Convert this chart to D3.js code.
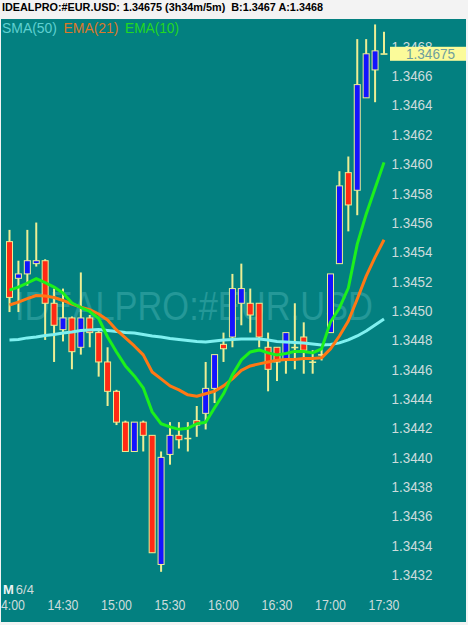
<!DOCTYPE html>
<html lang="en">
<head>
<meta charset="UTF-8">
<title>IDEALPRO:#EUR.USD 5m</title>
<script src="https://cdn.jsdelivr.net/npm/d3@7"></script>
<style>
  *{margin:0;padding:0;}
  body{background:#f3f3f3;}
  svg{display:block;}
</style>
</head>
<body>
<div id="content"></div>
<script>
// 5 minute bars, 14:00 - 17:30
var times = ["14:00","14:05","14:10","14:15","14:20","14:25","14:30","14:35","14:40","14:45","14:50","14:55",
             "15:00","15:05","15:10","15:15","15:20","15:25","15:30","15:35","15:40","15:45","15:50","15:55",
             "16:00","16:05","16:10","16:15","16:20","16:25","16:30","16:35","16:40","16:45","16:50","16:55",
             "17:00","17:05","17:10","17:15","17:20","17:25","17:30"];
var opens  = [1.34547,1.34522,1.34525,1.34532,1.34534,1.34505,1.34487,1.34495,1.34475,1.34495,1.34485,1.34465,
              1.34445,1.34424,1.34404,1.34424,1.34415,1.34327,1.34402,1.34415,1.34413,1.34425,1.34430,1.34447,
              1.34477,1.34482,1.34505,1.34505,1.34505,1.34475,1.34475,1.34466,1.34475,1.34482,1.34465,1.34470,
              1.34485,1.34532,1.34594,1.34582,1.34645,1.34664,1.34675];
var highs  = [1.34555,1.34534,1.34555,1.34560,1.34535,1.34515,1.34515,1.34496,1.34526,1.34497,1.34486,1.34475,
              1.34446,1.34425,1.34424,1.34425,1.34415,1.34404,1.34424,1.34424,1.34424,1.34435,1.34465,1.34470,
              1.34485,1.34525,1.34532,1.34515,1.34505,1.34485,1.34475,1.34485,1.34505,1.34492,1.34473,1.34474,
              1.34525,1.34595,1.34605,1.34685,1.34685,1.34695,1.34690];
var lows   = [1.34499,1.34499,1.34517,1.34530,1.34480,1.34465,1.34479,1.34460,1.34470,1.34475,1.34455,1.34435,
              1.34422,1.34404,1.34404,1.34404,1.34335,1.34322,1.34395,1.34406,1.34404,1.34414,1.34419,1.34437,
              1.34465,1.34475,1.34490,1.34485,1.34475,1.34445,1.34452,1.34457,1.34460,1.34457,1.34457,1.34466,
              1.34485,1.34532,1.34554,1.34565,1.34645,1.34642,1.34675];
var closes = [1.34509,1.34525,1.34534,1.34534,1.34505,1.34490,1.34495,1.34472,1.34495,1.34485,1.34465,1.34445,
              1.34424,1.34404,1.34424,1.34415,1.34335,1.34400,1.34415,1.34412,1.34413,1.34422,1.34447,1.34470,
              1.34474,1.34515,1.34515,1.34497,1.34482,1.34460,1.34465,1.34485,1.34475,1.34473,1.34465,1.34470,
              1.34525,1.34585,1.34572,1.34654,1.34675,1.34677,1.34675];

// moving averages
var sma50 = [1.344800,1.344803,1.344814,1.344820,1.344831,1.344837,1.344848,1.344854,1.344865,1.344868,1.344871,1.344865,
             1.344858,1.344851,1.344848,1.344837,1.344827,1.344820,1.344810,1.344803,1.344797,1.344790,1.344786,1.344793,
             1.344800,1.344803,1.344807,1.344807,1.344807,1.344800,1.344790,1.344786,1.344783,1.344780,1.344773,1.344766,
             1.344769,1.344780,1.344800,1.344827,1.344861,1.344902,1.344943];
var ema21 = [1.345038,1.345058,1.345082,1.345103,1.345099,1.345089,1.345069,1.345045,1.345024,1.345007,1.344977,1.344936,
             1.344868,1.344814,1.344759,1.344698,1.344582,1.344535,1.344487,1.344460,1.344426,1.344416,1.344433,1.344450,
             1.344487,1.344535,1.344593,1.344623,1.344637,1.344650,1.344661,1.344667,1.344667,1.344674,1.344674,1.344678,
             1.344739,1.344827,1.344929,1.345079,1.345235,1.345364,1.345483];
var ema10 = [1.345140,1.345160,1.345188,1.345218,1.345191,1.345160,1.345120,1.345052,1.345021,1.344994,1.344946,1.344820,
             1.344718,1.344623,1.344555,1.344474,1.344310,1.344229,1.344208,1.344191,1.344198,1.344229,1.344239,1.344338,
             1.344433,1.344562,1.344664,1.344718,1.344732,1.344712,1.344698,1.344708,1.344722,1.344722,1.344712,1.344739,
             1.344922,1.345018,1.345154,1.345453,1.345657,1.345834,1.346010];

var yTicks = [1.3432,1.3434,1.3436,1.3438,1.3440,1.3442,1.3444,1.3446,1.3448,1.3450,
              1.3452,1.3454,1.3456,1.3458,1.3460,1.3462,1.3464,1.3466,1.3468];
var xTicks = ["14:00","14:30","15:00","15:30","16:00","16:30","17:00","17:30"];
var legendNames = ["SMA(50)","EMA(21)","EMA(10)"];
var lastPrice = 1.34675;

var width = 468, height = 625;
var font = "'Liberation Sans', Arial, sans-serif";

var svg = d3.select("#content").append("svg")
    .attr("width", width).attr("height", height);

// header
svg.append("rect").attr("width", width).attr("height", height).attr("fill", "#f3f3f3");
svg.append("text")
    .attr("x", 2).attr("y", 11)
    .attr("font-family", font).attr("font-size", 10.5).attr("font-weight", "bold")
    .attr("fill", "#000")
    .style("white-space", "pre")
    .attr("textLength", 321).attr("lengthAdjust", "spacingAndGlyphs")
    .text("IDEALPRO:#EUR.USD: 1.34675 (3h34m/5m)  B:1.3467 A:1.3468");

// plot area
svg.append("defs").append("clipPath").attr("id", "clip")
    .append("rect").attr("x", 1).attr("y", 19).attr("width", 465).attr("height", 603);
var g = svg.append("g").attr("clip-path", "url(#clip)");
g.append("rect").attr("x", 1).attr("y", 19).attr("width", 465).attr("height", 603).attr("fill", "#038080");

/* scales */
var x = d3.scaleBand().domain(times).range([5.04, 388.46]);
function cx(t){ return x(t) + x.bandwidth() / 2; }
var y = d3.scaleLinear().domain([1.3432, 1.3468]).range([574.75, 46.45]);

// watermark (squeezed horizontally like the original font)
g.append("text")
    .attr("transform", "translate(15,320) scale(0.84,1)")
    .attr("font-family", font).attr("font-size", 41)
    .attr("fill", "#249898")
    .text("IDEALPRO:#EUR.USD");

/* candles */
var bars = times.map(function(t, i){
    return {t: t, o: opens[i], h: highs[i], l: lows[i], c: closes[i]};
});
var wickColor = "#eeee94";
var candle = g.append("g").selectAll("g").data(bars).enter().append("g");
candle.append("line")
    .attr("x1", function(d){ return cx(d.t); })
    .attr("x2", function(d){ return cx(d.t); })
    .attr("y1", function(d){ return y(d.h); })
    .attr("y2", function(d){ return y(d.l); })
    .attr("stroke", wickColor).attr("stroke-width", 2);
candle.append("rect")
    .attr("x", function(d){ return cx(d.t) - 3; })
    .attr("width", 6)
    .attr("y", function(d){ return y(Math.max(d.o, d.c)); })
    .attr("height", function(d){ return Math.max(0.5, Math.abs(y(d.o) - y(d.c))); })
    .attr("fill", function(d){
        if (d.c > d.o) return "#1414ff";
        if (d.c < d.o) return "#ff2a14";
        return wickColor;
    })
    .attr("stroke", wickColor).attr("stroke-width", 1);

/* moving averages */
var line = d3.line()
    .x(function(d, i){ return cx(times[i]); })
    .y(function(d){ return y(d); });
var maSeries = [
    {data: sma50, color: "#7ff0f0"},
    {data: ema21, color: "#ff7814"},
    {data: ema10, color: "#1cf01c"}
];
maSeries.forEach(function(s){
    g.append("path")
        .attr("d", line(s.data))
        .attr("fill", "none")
        .attr("stroke", s.color)
        .attr("stroke-width", 3)
        .attr("stroke-linejoin", "round");
});

// legend
var legendX = [2, 63.5, 125];
var legendW = [55, 55, 54];
var legendColors = ["#5fd0d0", "#dc782a", "#22d822"];
legendNames.forEach(function(name, i){
    g.append("text")
        .attr("x", legendX[i]).attr("y", 33)
        .attr("font-family", font).attr("font-size", 15)
        .attr("fill", legendColors[i])
        .attr("textLength", legendW[i]).attr("lengthAdjust", "spacingAndGlyphs")
        .text(name);
});

/* axes */
var yAxis = d3.axisRight(y).tickValues(yTicks).tickSize(0).tickPadding(0)
    .tickFormat(d3.format(".4f"));
var ya = g.append("g").attr("transform", "translate(391.5,0)").call(yAxis);
ya.select(".domain").remove();
ya.attr("font-family", font).attr("font-size", 15);
ya.selectAll("text").attr("fill", "#cddcdc")
    .attr("textLength", 41).attr("lengthAdjust", "spacingAndGlyphs");

var xAxis = d3.axisBottom(x).tickValues(xTicks).tickSize(0).tickPadding(0);
var xa = g.append("g").attr("transform", "translate(0,599.5)").call(xAxis);
xa.select(".domain").remove();
xa.attr("font-family", font).attr("font-size", 15);
xa.selectAll("text").attr("fill", "#cddcdc")
    .attr("textLength", 31).attr("lengthAdjust", "spacingAndGlyphs");

// day marker
var day = g.append("text").attr("x", 3).attr("y", 594)
    .attr("font-family", font).attr("font-size", 13).attr("fill", "#eef4f4");
day.append("tspan").attr("font-weight", "bold").text("M");
day.append("tspan").attr("dx", 2).attr("fill", "#cddcdc").text("6/4");

// last price box
g.append("rect")
    .attr("x", 390).attr("y", y(lastPrice) - 7)
    .attr("width", 78).attr("height", 14)
    .attr("fill", "#fbfb9a");
g.append("text")
    .attr("x", 430.5).attr("y", y(lastPrice) + 5.5)
    .attr("text-anchor", "middle")
    .attr("font-family", font).attr("font-size", 15)
    .attr("fill", "#6e9e9e")
    .attr("textLength", 49).attr("lengthAdjust", "spacingAndGlyphs")
    .text(d3.format(".5f")(lastPrice));
</script>
</body>
</html>
